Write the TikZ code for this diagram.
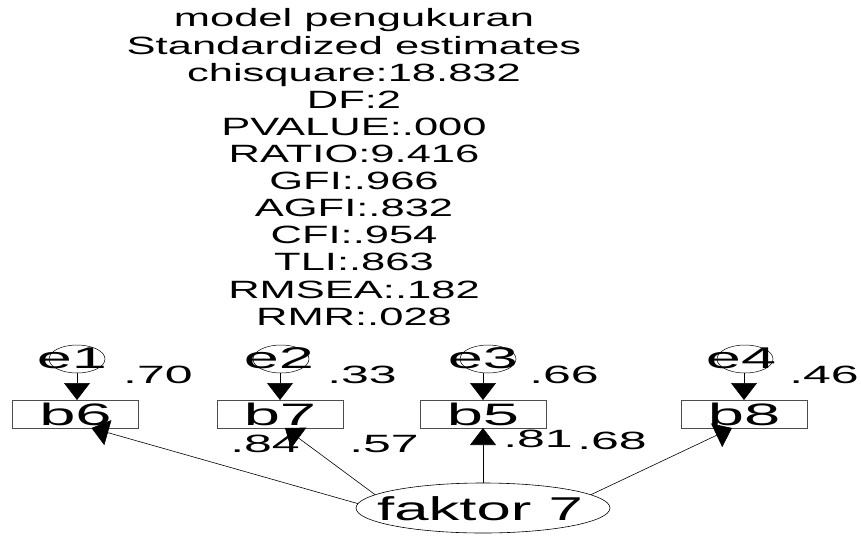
\documentclass[tikz,border=0pt]{standalone}
\usepackage{fontspec}
\setmainfont{Liberation Sans}
\newfontfamily\headfont[FakeStretch=1.74]{Liberation Sans}
\newfontfamily\diagfont[FakeStretch=2.1]{Liberation Sans}
\newfontfamily\coeffont[FakeStretch=2.0]{Liberation Sans}
\usetikzlibrary{arrows.meta,shapes.geometric}

\begin{document}
\begin{tikzpicture}[x=1pt,y=-1pt,
  every node/.style={inner sep=0pt, outer sep=0pt},
  obs/.style={draw=black!70, line width=0.8pt, minimum width=126pt, minimum height=28pt,
              font=\diagfont\fontsize{31}{31}\selectfont},
  errshape/.style={draw=black, line width=0.5pt, ellipse, minimum width=56pt, minimum height=28pt},
  latshape/.style={draw=black, line width=0.6pt, ellipse, minimum width=254pt, minimum height=50pt},
  lbl/.style={font=\diagfont\fontsize{30}{30}\selectfont},
  latlbl/.style={font=\diagfont\fontsize{33}{33}\selectfont, xscale=0.89},
  coef/.style={font=\coeffont\fontsize{25}{25}\selectfont},
  hdr/.style={font=\headfont\fontsize{25}{25}\selectfont, anchor=base},
  regpath/.style={line width=0.6pt, -{Triangle[length=17pt,width=26pt]}}]

\useasboundingbox (0,0) rectangle (861,535);

% header with the fit statistics
\foreach \t [count=\i] in {model pengukuran, Standardized estimates, chisquare:18.832,
    DF:2, PVALUE:.000, RATIO:9.416, GFI:.966, AGFI:.832, CFI:.954, TLI:.863,
    RMSEA:.182, RMR:.028}
  \node[hdr] (t\i) at (354, {27 + (\i-1)*27.1}) {\t};

% observed variables
\node[obs] (b6) at (75.5,414) {b6};
\node[obs] (b7) at (280,414) {b7};
\node[obs] (b5) at (483,414) {b5};
\node[obs] (b8) at (744,414) {b8};

% error terms
\node[errshape] (e1) at (77,359) {};
\node[errshape] (e2) at (281,359) {};
\node[errshape] (e3) at (488,359) {};
\node[errshape] (e4) at (745,359) {};
\node[lbl] (e1t) at (72,358) {e1};
\node[lbl] (e2t) at (279,358) {e2};
\node[lbl] (e3t) at (483,358) {e3};
\node[lbl] (e4t) at (741,358) {e4};

% latent factor
\node[latshape] (f) at (483,508) {};
\node[latlbl] (ft) at (480,509) {faktor 7};

% error paths
\draw[regpath] ([xshift=1.5pt]b6.north |- e1.south) -- ([xshift=1.5pt]b6.north);
\draw[regpath] (b7.north |- e2.south) -- (b7.north);
\draw[regpath] (b5.north |- e3.south) -- (b5.north);
\draw[regpath] (b8.north |- e4.south) -- (b8.north);

% loadings
\draw[regpath] (f.178) -- ([xshift=16pt]b6.south);
\draw[regpath] (f.173) -- ([xshift=5pt]b7.south);
\draw[regpath] (f.north) -- (b5.south);
\draw[regpath] (f.7) -- ([xshift=-12pt]b8.south);

% squared multiple correlations
\node[coef] (r6) at (158,375) {.70};
\node[coef] (r7) at (362,375) {.33};
\node[coef] (r5) at (564,375) {.66};
\node[coef] (r8) at (824,375) {.46};

% standardized loadings
\node[coef] (l6) at (265,444) {.84};
\node[coef] (l7) at (384,444) {.57};
\node[coef] (l5) at (538,439) {.81};
\node[coef] (l8) at (612,441) {.68};
\end{tikzpicture}
\end{document}
